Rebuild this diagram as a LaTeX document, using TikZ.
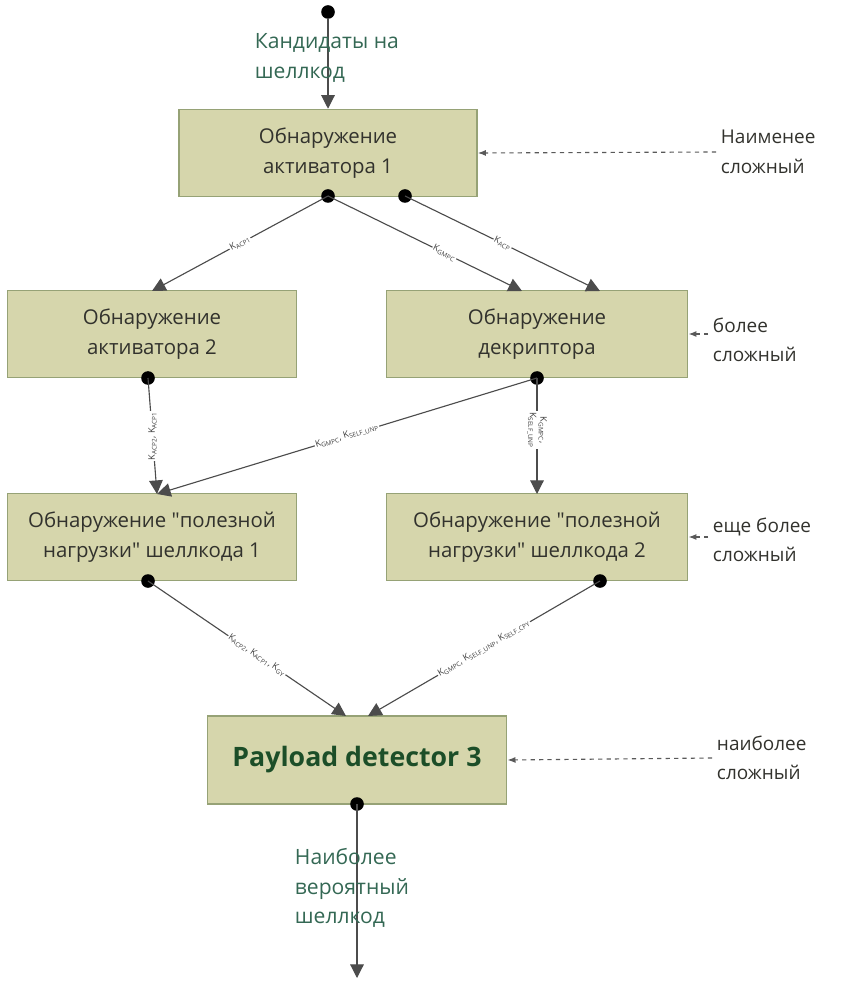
\documentclass[tikz,border=0pt]{standalone}
\usepackage{fontspec}
\setmainfont{Open Sans}[Ligatures=TeXOff]
\setsansfont{Open Sans}[Ligatures=TeXOff]
\usetikzlibrary{arrows.meta}
\definecolor{boxfill}{RGB}{214,214,172}
\definecolor{boxline}{RGB}{150,162,118}
\definecolor{labgreen}{RGB}{52,104,84}
\definecolor{boldgreen}{RGB}{28,78,40}
\definecolor{textgray}{RGB}{50,50,45}
\newcommand{\kk}[1]{K\textsubscript{#1}}

\tikzset{
  stage/.style={rectangle,draw=boxline,line width=1.2pt,fill=boxfill,text=textgray,
    align=center,font=\fontsize{14.5}{21}\selectfont,minimum width=7.45cm,minimum height=2.17cm},
  flow/.style={-{Triangle[length=3.4mm,width=3.4mm]},gray!60!black,thick},
  hint/.style={-{Latex[length=2mm]},dashed,gray!70!black,thick},
  klab/.style={font=\fontsize{6.5}{7.5}\selectfont,text=black!75,fill=white,inner sep=0.6pt},
  dot/.style={circle,fill=black,inner sep=0pt,minimum size=3.4mm},
  note/.style={align=left,anchor=west,text=textgray,font=\fontsize{13.5}{21}\selectfont},
  flowtext/.style={anchor=west,align=left,text=labgreen,font=\fontsize{15}{21}\selectfont},
}

\begin{document}
\begin{tikzpicture}[x=0.025cm,y=-0.025cm]
			\useasboundingbox (0,0) rectangle (842,983);
			% stages
			\node [stage] (a1) at (328,153) {Обнаружение\\активатора 1};
			\node [stage,minimum width=7.23cm] (a2) at (152,334) {Обнаружение\\активатора 2};
			\node [stage,minimum width=7.53cm] (dec) at (537,334) {Обнаружение\\декриптора};
			\node [stage,minimum width=7.23cm] (p1) at (152,537) {Обнаружение "полезной\\нагрузки" шеллкода 1};
			\node [stage,minimum width=7.53cm] (p2) at (537,537) {Обнаружение "полезной\\нагрузки" шеллкода 2};
			\node [stage,minimum width=7.48cm,minimum height=2.2cm,text=boldgreen,font=\fontsize{19}{22}\selectfont\bfseries] (p3) at (357,760) {Payload detector 3};
			% dots
			\node [dot] (in) at (328,12) {};
			\node [dot] (a1l) at (328,196) {};
			\node [dot] (a1r) at (405,196) {};
			\node [dot] (a2d) at (148,378) {};
			\node [dot] (decd) at (537,378) {};
			\node [dot] (p1d) at (148,581) {};
			\node [dot] (p2d) at (600,581) {};
			\node [dot] (p3d) at (357,804) {};
			% arrow ends
			\coordinate (t2) at (152,291);
			\coordinate (td1) at (522,291);
			\coordinate (td2) at (600,291);
			\coordinate (tp1) at (157,494);
			\coordinate (tp2) at (537,494);
			\coordinate (tp3a) at (346,716);
			\coordinate (tp3b) at (368,716);
			\coordinate (out) at (357,978);
			% connectors
			\draw [flow] (in) -- (a1.north);
			\draw [flow] (a1l.center) -- node [klab,sloped,pos=0.5] {\kk{ACP1}} (t2);
			\draw [flow] (a1l.center) -- node [klab,sloped,pos=0.6] {\kk{GMPC}} (td1);
			\draw [flow] (a1r.center) -- node [klab,sloped,pos=0.5] {\kk{ACP}} (td2);
			\draw [flow] (a2d.center) -- node [klab,rotate=90,pos=0.5] {\kk{ACP2}, \kk{ACP1}} (tp1);
			\draw [flow] (decd.center) -- node [klab,sloped,pos=0.5] {\kk{GMPC}, \kk{SELF\_UNP}} (tp1);
			\draw [flow] (decd.center) -- node [klab,rotate=-90,pos=0.45,align=center] {\kk{GMPC},\\\kk{SELF\_UNP}} (tp2);
			\draw [flow] (p1d.center) -- node [klab,sloped,pos=0.55] {\kk{ACP2}, \kk{ACP1}, \kk{GY}} (tp3a);
			\draw [flow] (p2d.center) -- node [klab,sloped,pos=0.5] {\kk{GMPC}, \kk{SELF\_UNP}, \kk{SELF\_CPY}} (tp3b);
			\draw [flow] (p3d.center) -- (out);
			% flow texts
			\node [flowtext] (cand) at (250,58) {Кандидаты на\\шеллкод};
			\node [flowtext] (best) at (290,888) {Наиболее\\вероятный\\шеллкод};
			% complexity notes
			\node [note] (n1) at (716,152) {Наименее\\сложный};
			\node [note] (n2) at (708,340) {более\\сложный};
			\node [note] (n3) at (708,540) {еще более\\сложный};
			\node [note] (n4) at (712,758) {наиболее\\сложный};
			\draw [hint] (n1.west) -- (a1.east);
			\draw [hint] (n2.west|-dec.east) -- (dec.east);
			\draw [hint] (n3.west|-p2.east) -- (p2.east);
			\draw [hint] (n4.west) -- (p3.east);
		\end{tikzpicture}
\end{document}
